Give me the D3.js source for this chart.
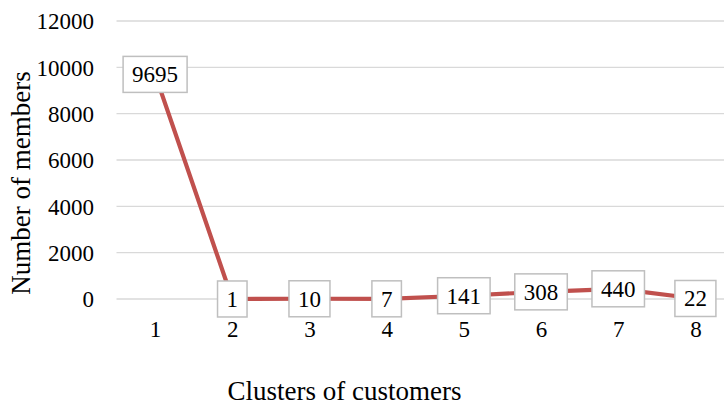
<!DOCTYPE html>
<html>
<head>
<meta charset="utf-8">
<script src="https://cdn.jsdelivr.net/npm/d3@7"></script>
<style>
  html, body { margin: 0; padding: 0; background: #fff; }
  svg { display: block; }
  text { font-family: "Liberation Serif", "Times New Roman", serif; fill: #000; }
</style>
</head>
<body>
<div id="chart"></div>
<script>
const categories = ["1", "2", "3", "4", "5", "6", "7", "8"];
const members = [9695, 1, 10, 7, 141, 308, 440, 22];
const yTicks = [0, 2000, 4000, 6000, 8000, 10000, 12000];
const xTitle = "Clusters of customers";
const yTitle = "Number of members";

const W = 724, H = 406;
const mLeft = 116.5, mRight = 734, mTop = 21, mBottom = 299;

const svg = d3.select("#chart").append("svg").attr("width", W).attr("height", H);

const x = d3.scalePoint().domain(categories).range([mLeft, mRight]).padding(0.5);
const y = d3.scaleLinear().domain([0, 12000]).range([mBottom, mTop]);

// gridlines
svg.append("g").selectAll("line").data(yTicks).join("line")
  .attr("x1", mLeft).attr("x2", W)
  .attr("y1", d => y(d)).attr("y2", d => y(d))
  .attr("stroke", "#d9d9d9").attr("stroke-width", 1.3);

// y axis labels
const yAxis = d3.axisLeft(y).tickValues(yTicks).tickSize(0).tickPadding(0).tickFormat(d3.format("d"));
const gy = svg.append("g").attr("transform", `translate(94,0)`).call(yAxis)
  .attr("font-family", "Liberation Serif").attr("font-size", 23);
gy.select(".domain").remove();
gy.selectAll("text").attr("fill", "#000").attr("dy", "0.34em");

// x axis labels
const xAxis = d3.axisBottom(x).tickSize(0).tickPadding(0);
const gx = svg.append("g").attr("transform", `translate(0,337)`).call(xAxis)
  .attr("font-family", "Liberation Serif").attr("font-size", 23);
gx.select(".domain").remove();
gx.selectAll("text").attr("fill", "#000").attr("dy", 0);

// line
const line = d3.line().x((d, i) => x(categories[i])).y(d => y(d));
svg.append("path").datum(members)
  .attr("d", line).attr("fill", "none")
  .attr("stroke", "#C0504D").attr("stroke-width", 4.2).attr("stroke-linejoin", "round");

// labels
const lg = svg.append("g").selectAll("g").data(members).join("g")
  .attr("transform", (d, i) => `translate(${x(categories[i])},${y(d)})`);
const rects = lg.append("rect").attr("fill", "#fff").attr("stroke", "#bfbfbf").attr("stroke-width", 1.5);
const texts = lg.append("text").attr("text-anchor", "middle").attr("dy", "0.34em")
  .attr("font-size", 23).text(d => d);
texts.each(function(d) {
  const w = this.getComputedTextLength() + 18;
  d3.select(this.parentNode).select("rect")
    .attr("x", -w / 2).attr("y", -18).attr("width", w).attr("height", 36);
});

// titles
svg.append("text").attr("x", 344.5).attr("y", 400).attr("text-anchor", "middle")
  .attr("font-size", 27).text(xTitle);
svg.append("text").attr("transform", "translate(30,183) rotate(-90)").attr("text-anchor", "middle")
  .attr("font-size", 27).text(yTitle);
</script>
</body>
</html>
